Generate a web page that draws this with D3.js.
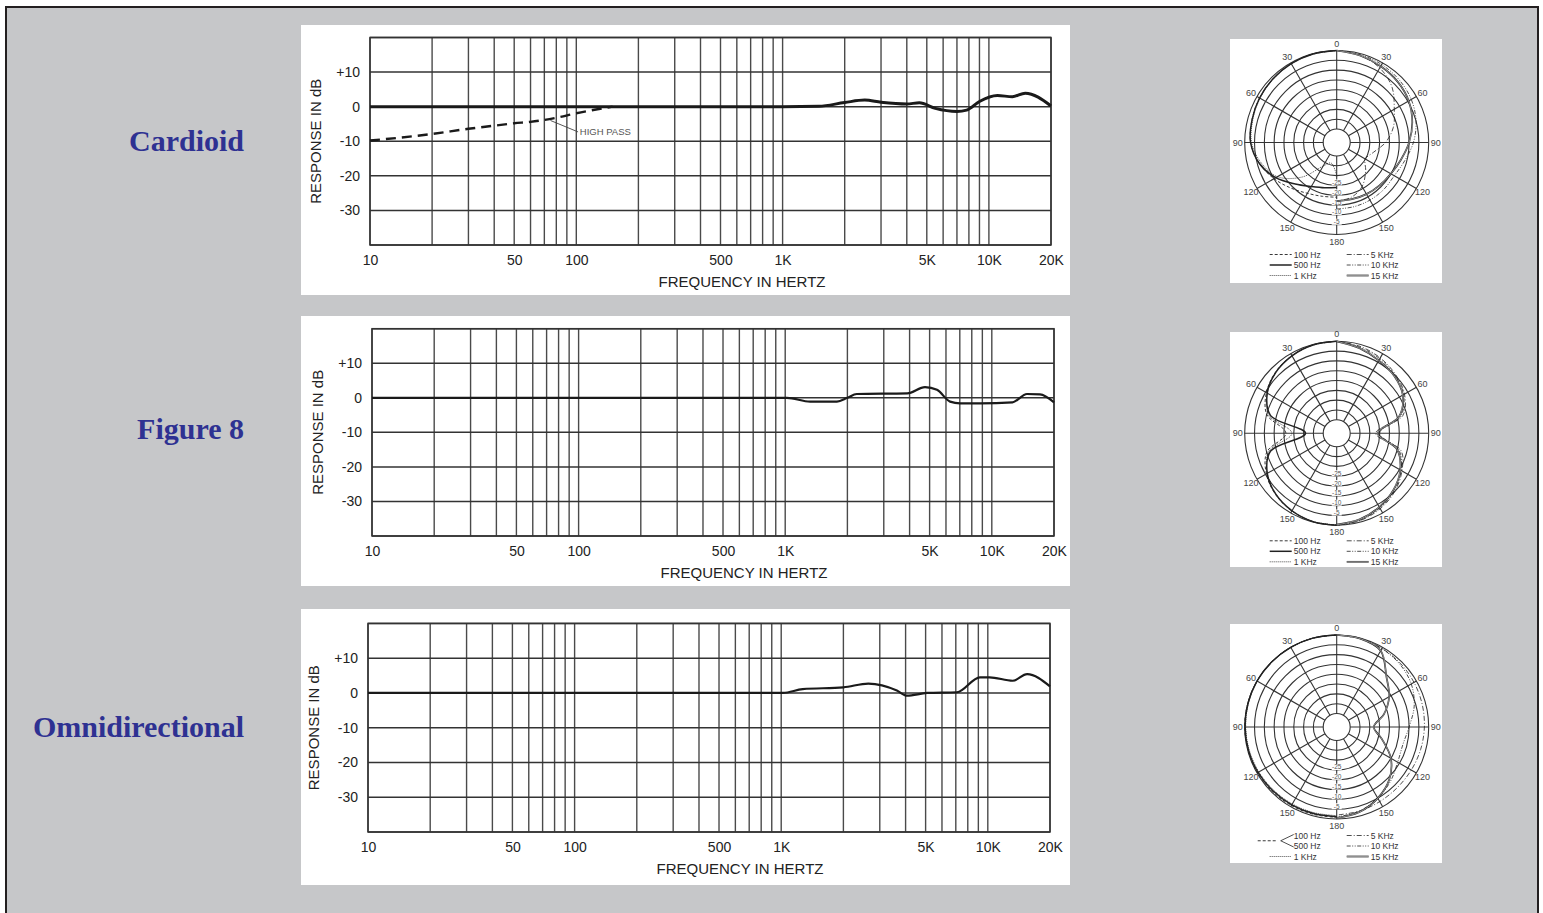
<!DOCTYPE html>
<html>
<head>
<meta charset="utf-8">
<script src="https://cdn.jsdelivr.net/npm/d3@7"></script>
<style>
	body { margin: 0; background: #fff; }
	svg { display: block; }
</style>
</head>
<body>
<svg id="chart" width="1543" height="913"></svg>
<script>
(function(){
	'use strict';

	// ---- data ----
	var patternNames = ['Cardioid', 'Figure 8', 'Omnidirectional'];

	var freqTicks = [10, 50, 100, 500, 1000, 5000, 10000, 20000];
	var freqTickLabels = ['10', '50', '100', '500', '1K', '5K', '10K', '20K'];
	var dbTicks = [10, 0, -10, -20, -30];
	var dbTickLabels = ['+10', '0', '-10', '-20', '-30'];

	var cardioidFreq = [10, 1000, 1500, 2000, 2500, 3000, 4000, 4600, 5500, 7000, 7800, 9000, 11000, 13000, 15000, 20000];
	var cardioidDb   = [0, 0, 0.1, 1.2, 1.9, 1.3, 0.8, 1.1, -0.5, -1.4, -1, 1.5, 3.2, 2.9, 3.9, 0.2];
	var highPassFreq = [10, 20, 30, 40, 50, 60, 80, 100, 150];
	var highPassDb   = [-9.8, -7.9, -6.4, -5.5, -4.8, -4.4, -3.2, -1.9, 0];
	var figure8Freq  = [10, 1020, 1320, 1780, 2000, 2220, 3900, 4750, 5430, 6280, 7020, 8770, 12600, 14800, 17100, 20000];
	var figure8Db    = [0, 0, -1.1, -1.1, 0, 1.1, 1.3, 3.1, 2.3, -1.1, -1.6, -1.6, -1.3, 1.1, 1.0, -1.3];
	var omniFreq     = [10, 1020, 1270, 2000, 2640, 3630, 4060, 5080, 7090, 9160, 10200, 13200, 15500, 20000];
	var omniDb       = [0, 0, 1.1, 1.6, 2.7, 0.7, -0.8, 0, 0.2, 4.5, 4.5, 3.5, 5.4, 1.9];

	// polar patterns: dB at each angle off axis, low freqs drawn on the left half, high on the right
	var polarAngles = [0, 15, 30, 45, 60, 75, 90, 105, 120, 135, 150, 165, 180];
	var polarFreqs = ['100 Hz', '500 Hz', '1 KHz', '5 KHz', '10 KHz', '15 KHz'];
	var polarRingDb = [0, -5, -10, -15, -20, -25, -30, -35, -40];
	var polarRingLabels = [-5, -10, -15, -20, -25];
	var polarAngleLabels = [0, 30, 60, 90, 120, 150, 180];

	var cardioidPolar = [
		[0, -0.2, -0.5, -1, -1.5, -2.2, -3, -6, -10, -14, -17, -18.5, -19],
		[0, -0.2, -0.5, -1, -1.5, -2.2, -3, -6, -11, -17, -21, -23, -24],
		[0, -0.2, -0.6, -1.2, -1.8, -2.6, -3.5, -7, -12, -22, -33, -36, -30],
		[0, -1, -3, -7, -13, -17, -22, -27.5, -30, -26, -21, -18, -17],
		[0, -0.5, -1, -1.8, -3, -5, -7.8, -11, -13, -13, -13, -13, -13],
		[0, -1, -2, -3, -4.5, -7, -10, -13, -15, -16, -16.5, -17, -17]
	];
	var figure8Polar = [
		[0, -0.3, -1.2, -2.8, -5.5, -10, -21, -10, -5.5, -2.8, -1.2, -0.3, 0],
		[0, -0.3, -1.3, -3, -6, -12, -31, -12, -6, -3, -1.3, -0.3, 0],
		[0, -0.3, -1.2, -3, -6, -11, -24, -11, -6, -3, -1.2, -0.3, -0.2],
		[0, -1, -2.5, -4.5, -7, -12, -27, -13, -8.5, -5, -2.5, -0.8, 0],
		[0, -1.5, -3, -5, -7.5, -13, -25, -14, -9, -5.5, -3, -1, 0],
		[0, -2, -4, -5.5, -8, -14, -26, -15, -9.5, -6, -3.5, -1.5, -0.3]
	];
	var omniPolar = [
		[0, 0, 0, 0, 0, 0, 0, -0.2, -0.3, -0.5, -0.7, -0.8, -0.8],
		[0, 0, 0, 0, 0, -0.1, -0.2, -0.4, -0.6, -0.9, -1.1, -1.2, -1.2],
		[0, 0, 0, -0.1, -0.2, -0.3, -0.5, -0.8, -1.1, -1.4, -1.6, -1.7, -1.7],
		[0, -0.3, -0.7, -1, -1.4, -1.8, -2.2, -2.6, -3, -3.2, -3, -2.5, -2],
		[0, -0.3, -0.8, -1.5, -3, -6, -10, -12, -11, -8, -5, -2.5, -1],
		[0, -0.3, -2, -11, -16, -22, -28, -23, -15, -9, -5, -2, -0.5]
	];

	// ---- layout ----
	var svg = d3.select('#chart');
	var sans = '"Liberation Sans", Arial, Helvetica, sans-serif';
	var ink = '#222';

	var lineStyles = {
		'100 Hz': { dash: '3,2', w: 0.9 },
		'500 Hz': { dash: null, w: 1.5 },
		'1 KHz':  { dash: '1,1', w: 0.8 },
		'5 KHz':  { dash: '5,2,1,2', w: 0.8 },
		'10 KHz': { dash: '4,1.5,1,1.5,1,1.5', w: 0.8 },
		'15 KHz': { dash: null, w: 1.7, dbl: true }
	};

	svg.append('rect')
		.attr('x', 0).attr('y', 0)
		.attr('width', 1543).attr('height', 913)
		.attr('fill', '#fff');
	svg.append('rect')
		.attr('x', 6).attr('y', 7)
		.attr('width', 1532).attr('height', 940)
		.attr('fill', '#c6c7c9')
		.attr('stroke', '#231f20')
		.attr('stroke-width', 2);

	var nameY = [151, 439, 737];
	svg.selectAll('text.pattern').data(patternNames).enter().append('text')
		.attr('class', 'pattern')
		.attr('x', 244)
		.attr('y', function(d, i){ return nameY[i]; })
		.attr('text-anchor', 'end')
		.attr('font-family', '"Liberation Serif", "Times New Roman", serif')
		.attr('font-weight', 'bold')
		.attr('font-size', '30px')
		.attr('fill', '#2e3192')
		.text(function(d){ return d; });

	function drawResponse(c, series){
		var g = svg.append('g');
		g.append('rect')
			.attr('x', 301).attr('y', c.py)
			.attr('width', 769).attr('height', c.ph)
			.attr('fill', '#fff');

		var x = d3.scaleLog().domain([10, 20000]).range([c.left, c.right]);
		var y = d3.scaleLinear().domain([-40, 20]).range([c.bottom, c.top]);

		g.selectAll('line.vg').data(x.ticks()).enter().append('line')
			.attr('class', 'vg')
			.attr('x1', function(d){ return x(d); })
			.attr('x2', function(d){ return x(d); })
			.attr('y1', c.top).attr('y2', c.bottom)
			.attr('stroke', '#4a4a4a')
			.attr('stroke-width', 1.4);
		g.selectAll('line.hg').data(y.ticks(6)).enter().append('line')
			.attr('class', 'hg')
			.attr('x1', c.left).attr('x2', c.right)
			.attr('y1', function(d){ return y(d); })
			.attr('y2', function(d){ return y(d); })
			.attr('stroke', '#333')
			.attr('stroke-width', 1.5);
		g.append('rect')
			.attr('x', c.left).attr('y', c.top)
			.attr('width', c.right - c.left).attr('height', c.bottom - c.top)
			.attr('fill', 'none')
			.attr('stroke', '#333')
			.attr('stroke-width', 1.5);

		var xAxis = g.append('g')
			.attr('transform', 'translate(0,' + c.bottom + ')')
			.call(d3.axisBottom(x)
				.tickValues(freqTicks)
				.tickFormat(function(d, i){ return freqTickLabels[i]; })
				.tickSize(0)
				.tickPadding(10));
		var yAxis = g.append('g')
			.attr('transform', 'translate(' + c.left + ',0)')
			.call(d3.axisLeft(y)
				.tickValues(dbTicks)
				.tickFormat(function(d, i){ return dbTickLabels[i]; })
				.tickSize(0)
				.tickPadding(10));
		[xAxis, yAxis].forEach(function(a){
			a.select('.domain').remove();
			a.selectAll('text')
				.attr('font-family', sans)
				.attr('font-size', '14px')
				.attr('fill', '#222');
		});

		g.append('text')
			.attr('transform', 'translate(' + (c.left - 55) + ',' + ((c.top + c.bottom) / 2) + ') rotate(-90)')
			.attr('text-anchor', 'middle')
			.attr('dominant-baseline', 'central')
			.attr('font-family', sans)
			.attr('font-size', '15px')
			.attr('fill', '#222')
			.text('RESPONSE IN dB');
		g.append('text')
			.attr('x', c.left + 372)
			.attr('y', c.bottom + 42)
			.attr('text-anchor', 'middle')
			.attr('font-family', sans)
			.attr('font-size', '15px')
			.attr('fill', '#222')
			.text('FREQUENCY IN HERTZ');

		var line = d3.line()
			.x(function(d){ return x(d[0]); })
			.y(function(d){ return y(d[1]); })
			.curve(d3.curveMonotoneX);

		series.forEach(function(s){
			g.append('path')
				.datum(d3.zip(s.freq, s.db))
				.attr('d', line)
				.attr('fill', 'none')
				.attr('stroke', '#1a1a1a')
				.attr('stroke-width', s.width)
				.attr('stroke-dasharray', s.dash || null)
				.attr('stroke-linejoin', 'round');
		});

		if (c.highPass) {
			g.append('line')
				.attr('x1', x(75)).attr('y1', y(-4))
				.attr('x2', x(102)).attr('y2', y(-7.3))
				.attr('stroke', '#444')
				.attr('stroke-width', 0.9);
			g.append('text')
				.attr('x', x(104)).attr('y', y(-7.3) + 3)
				.attr('font-family', sans)
				.attr('font-size', '9.5px')
				.attr('fill', '#555')
				.text('HIGH PASS');
		}
	}

	function applyStyle(sel, st){
		sel.attr('fill', 'none')
			.attr('stroke', ink)
			.attr('stroke-width', st.w)
			.attr('stroke-dasharray', st.dash);
	}

	function drawPolar(c, values){
		var g = svg.append('g');
		g.append('rect')
			.attr('x', 1230).attr('y', c.py)
			.attr('width', 212).attr('height', c.ph)
			.attr('fill', '#fff');

		var gc = g.append('g').attr('transform', 'translate(' + c.cx + ',' + c.cy + ')');
		var r = d3.scaleLinear().domain([-40, 0]).range([13.5, 92]);
		var rad = Math.PI / 180;

		gc.selectAll('circle.ring').data(polarRingDb).enter().append('circle')
			.attr('class', 'ring')
			.attr('r', function(d){ return r(d); })
			.attr('fill', 'none')
			.attr('stroke', '#333')
			.attr('stroke-width', 1.1);
		gc.selectAll('line.spoke').data(d3.range(0, 360, 30)).enter().append('line')
			.attr('class', 'spoke')
			.attr('x1', function(d){ return r(-40) * Math.sin(d * rad); })
			.attr('y1', function(d){ return -r(-40) * Math.cos(d * rad); })
			.attr('x2', function(d){ return r(0) * Math.sin(d * rad); })
			.attr('y2', function(d){ return -r(0) * Math.cos(d * rad); })
			.attr('stroke', '#333')
			.attr('stroke-width', 1.1);

		var lab = gc.selectAll('g.rl').data(polarRingLabels).enter().append('g')
			.attr('class', 'rl')
			.attr('transform', function(d){ return 'translate(0,' + r(d - 1.5) + ')'; });
		lab.append('rect')
			.attr('x', -5).attr('y', -3)
			.attr('width', 10).attr('height', 6)
			.attr('fill', '#fff');
		lab.append('text')
			.attr('text-anchor', 'middle')
			.attr('dominant-baseline', 'central')
			.attr('font-family', sans)
			.attr('font-size', '6.5px')
			.attr('fill', '#555')
			.text(function(d){ return d; });

		var angLabels = [];
		polarAngleLabels.forEach(function(a){
			angLabels.push({ a: a, t: a });
			if (a > 0 && a < 180) angLabels.push({ a: -a, t: a });
		});
		gc.selectAll('text.al').data(angLabels).enter().append('text')
			.attr('class', 'al')
			.attr('x', function(d){ return 99 * Math.sin(d.a * rad); })
			.attr('y', function(d){ return -99 * Math.cos(d.a * rad); })
			.attr('text-anchor', 'middle')
			.attr('dominant-baseline', 'central')
			.attr('font-family', sans)
			.attr('font-size', '9px')
			.attr('fill', '#444')
			.text(function(d){ return d.t; });

		var curves = polarFreqs.map(function(f, i){
			return { name: f, side: i < 3 ? -1 : 1, db: values[i] };
		});
		curves.forEach(function(cv){
			var st = lineStyles[cv.name];
			var lr = d3.lineRadial()
				.angle(function(d){ return cv.side * d[0] * rad; })
				.radius(function(d){ return r(Math.max(-40, d[1])); })
				.curve(d3.curveCatmullRom);
			var pts = d3.zip(polarAngles, cv.db);
			applyStyle(gc.append('path').datum(pts).attr('d', lr), st);
			if (st.dbl) {
				gc.append('path').datum(pts).attr('d', lr)
					.attr('fill', 'none').attr('stroke', '#fff').attr('stroke-width', 0.5);
			}
		});

		// legend
		var lg = g.append('g').attr('transform', 'translate(' + c.cx + ',' + c.cy + ')');
		polarFreqs.forEach(function(f, i){
			var col = i < 3 ? 0 : 1;
			var row = i % 3;
			var ly = c.legY + row * 10.5;
			var x1 = col ? 10 : -67;
			var st = lineStyles[f];
			if (!(c.omniLegend && i < 2)) {
				applyStyle(lg.append('line')
					.attr('x1', x1).attr('x2', x1 + 22)
					.attr('y1', ly).attr('y2', ly), st);
				if (st.dbl) {
					lg.append('line')
						.attr('x1', x1).attr('x2', x1 + 22)
						.attr('y1', ly).attr('y2', ly)
						.attr('stroke', '#fff').attr('stroke-width', 0.5);
				}
			}
			lg.append('text')
				.attr('x', x1 + 24)
				.attr('y', ly)
				.attr('dominant-baseline', 'central')
				.attr('font-family', sans)
				.attr('font-size', '8.5px')
				.attr('fill', '#333')
				.text(f);
		});
		if (c.omniLegend) {
			var my = c.legY + 5.25;
			applyStyle(lg.append('line')
				.attr('x1', -79).attr('x2', -60)
				.attr('y1', my).attr('y2', my), lineStyles['100 Hz']);
			lg.append('path')
				.attr('d', 'M' + (-43) + ',' + (c.legY - 1) + 'L' + (-56) + ',' + my + 'L' + (-43) + ',' + (c.legY + 11.5))
				.attr('fill', 'none')
				.attr('stroke', ink)
				.attr('stroke-width', 0.8);
		}
	}

	drawResponse({ py: 25, ph: 270, left: 370, right: 1051, top: 37.5, bottom: 245, highPass: true }, [
		{ freq: highPassFreq, db: highPassDb, width: 2.4, dash: '10,6' },
		{ freq: cardioidFreq, db: cardioidDb, width: 3 }
	]);
	drawResponse({ py: 316, ph: 270, left: 372, right: 1054, top: 328.7, bottom: 536 }, [
		{ freq: figure8Freq, db: figure8Db, width: 2.2 }
	]);
	drawResponse({ py: 609, ph: 276, left: 368, right: 1050, top: 623.4, bottom: 832 }, [
		{ freq: omniFreq, db: omniDb, width: 2.2 }
	]);

	drawPolar({ py: 39, ph: 244, cx: 1336.7, cy: 142.5, legY: 112 }, cardioidPolar);
	drawPolar({ py: 332, ph: 235, cx: 1336.7, cy: 433.3, legY: 107.5 }, figure8Polar);
	drawPolar({ py: 624, ph: 239, cx: 1336.7, cy: 727, legY: 108.5, omniLegend: true }, omniPolar);

})();
</script>
</body>
</html>
